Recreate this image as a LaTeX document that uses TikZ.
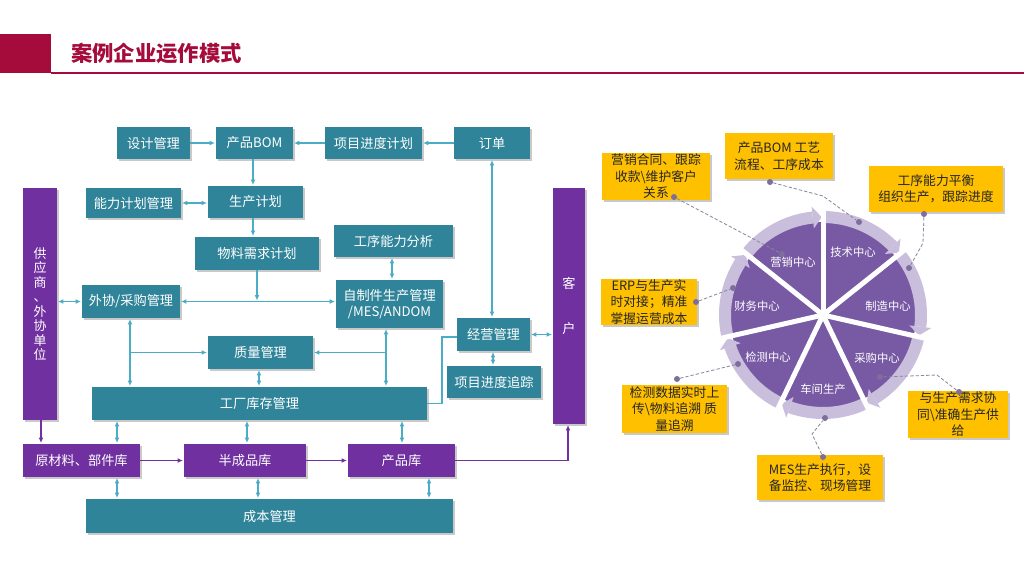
\documentclass[tikz,border=0pt]{standalone}
\usepackage{fontspec}
\setmainfont{Noto Sans CJK SC}
\usetikzlibrary{arrows.meta,shadows,calc}
\definecolor{teal1}{HTML}{2F8499}
\definecolor{lb}{HTML}{4BACC6}
\definecolor{pur}{HTML}{7030A0}
\definecolor{wedge}{HTML}{7859A3}
\definecolor{band}{HTML}{C9BEDC}
\definecolor{gold}{HTML}{FFC000}
\definecolor{ttl}{HTML}{A50B3B}
\definecolor{dotc}{HTML}{7D6E9E}
\definecolor{dsh}{HTML}{86869C}
\begin{document}
\begin{tikzpicture}[x=0.75pt,y=-0.75pt,
  myt/.tip={Latex[length=4pt,width=3.6pt]},
  sz/.style 2 args={minimum width=#1*0.75pt,minimum height=#2*0.75pt},
  shd/.style={drop shadow={shadow xshift=1.2pt,shadow yshift=-1.2pt,opacity=0.35,fill=black!60}},
  tb/.style={fill=teal1,text=white,inner sep=0pt,outer sep=0pt,align=center,font=\fontsize{9.9}{12}\selectfont,shd},
  pb/.style={tb,fill=pur},
  cbx/.style={fill=gold,text=black!85,inner sep=0pt,outer sep=0pt,align=center,font=\fontsize{9.6}{12.4}\selectfont,shd},
  ln/.style={draw=lb,line width=1pt},
  ar/.style={ln,-myt,shorten >=0.8pt},
  ar2/.style={ln,myt-myt,shorten >=0.8pt,shorten <=0.8pt},
  pln/.style={draw=pur,line width=1pt},
  par/.style={pln,-myt,shorten >=0.8pt},
  dsl/.style={draw=dsh,line width=0.6pt,dash pattern=on 2.5pt off 1.5pt},
  dt/.style={circle,fill=dotc,inner sep=0pt,minimum size=4.5pt},
  cl/.style={text=white,inner sep=0pt,font=\fontsize{8.5}{10}\selectfont}
]
\useasboundingbox (0,0) rectangle (1024,576);
\fill[white] (0,0) rectangle (1024,576);
% title
\fill[ttl] (0,34) rectangle (51,73);
\fill[ttl] (51,71.8) rectangle (1024,73.8);
\node[anchor=west,inner sep=0pt,text=ttl,font=\fontsize{16}{18}\selectfont\bfseries] (title) at (71,53) {案例企业运作模式};
% x / y helper coordinates
\foreach \v in {41,117,130,247,253,257,258,259,386,392,402,429,442,492,493,568}{\coordinate (X\v) at (\v,0);}
\coordinate (Y337) at (0,337);
% left diagram nodes
\node[tb,sz={73}{32}] (sj) at (153.5,143) {设计管理};
\node[tb,sz={77}{32}] (bom) at (254.5,143) {产品BOM};
\node[tb,sz={97}{32}] (xmjh) at (373.5,143) {项目进度计划};
\node[tb,sz={76}{32}] (dd) at (492,143) {订单};
\node[tb,sz={95}{30}] (nl) at (133.5,203) {能力计划管理};
\node[tb,sz={95}{32}] (scjh) at (255.5,202) {生产计划};
\node[tb,sz={124}{33}] (wl) at (257,253.5) {物料需求计划};
\node[tb,sz={119}{32}] (gx) at (393.5,241) {工序能力分析};
\node[tb,sz={98}{33}] (wx) at (131,301.5) {外协/采购管理};
\node[tb,sz={107}{48},font=\fontsize{9.9}{12.2}\selectfont] (zz) at (389.5,304) {自制件生产管理\\/MES/ANDOM};
\node[tb,sz={73}{33}] (jy) at (493.5,334.5) {经营管理};
\node[tb,sz={105}{33}] (zl) at (260.5,352.5) {质量管理};
\node[tb,sz={94}{32}] (zz2) at (494,382) {项目进度追踪};
\node[tb,sz={335}{33}] (kc) at (259.5,403.5) {工厂库存管理};
\node[tb,sz={367}{34}] (cb) at (269.5,516) {成本管理};
\node[pb,sz={34}{232},font=\fontsize{9.7}{10.9}\selectfont] (gys) at (40,304) {供\\应\\商\\、\\外\\协\\单\\位};
\node[pb,sz={32}{236},font=\fontsize{9.9}{33.8}\selectfont] (kh) at (569,306) {客\\户};
\node[pb,sz={117}{33}] (ycl) at (81.5,460.5) {原材料、部件库};
\node[pb,sz={122}{33}] (bcp) at (245,460.5) {半成品库};
\node[pb,sz={107}{33}] (cpk) at (401.5,460.5) {产品库};
% left connectors
\draw[ar] (sj.east) -- (bom.west);
\draw[ar] (xmjh.west) -- (bom.east);
\draw[ar] (dd.west) -- (xmjh.east);
\draw[ar] (bom.south -| X253) -- (scjh.north -| X253);
\draw[ar2] (nl.east) -- (nl.east -| scjh.west);
\draw[ar] (scjh.south -| X253) -- (wl.north -| X253);
\draw[ar2] (wx.east) -- (wx.east -| zz.west);
\draw[ar] (wl.south -| X257) -- (X257 |- wx.east);
\draw[ar2] (gys.east |- wx.west) -- (wx.west);
\draw[ar2] (gx.south -| X392) -- (zz.north -| X392);
\draw[ar2] (dd.south -| X492) -- (jy.north -| X492);
\draw[ar2] (jy.east) -- (jy.east -| kh.west);
\draw[ar2] (jy.south -| X493) -- (zz2.north -| X493);
\draw[ln] (kc.east) -- (kc.east -| X442) -- (X442 |- Y337) -- (jy.west |- Y337);
\draw[ar2] (zz.south -| X386) -- (kc.north -| X386);
\draw[ar] (X386 |- zl.east) -- (zl.east);
\draw[ar2] (wx.south -| X130) -- (kc.north -| X130);
\draw[ar] (X130 |- zl.west) -- (zl.west);
\draw[ar2] (zl.south -| X259) -- (kc.north -| X259);
\draw[ar2] (kc.south -| X117) -- (ycl.north -| X117);
\draw[ar2] (kc.south -| X247) -- (bcp.north -| X247);
\draw[ar2] (kc.south -| X402) -- (cpk.north -| X402);
\draw[ar2] (ycl.south -| X117) -- (cb.north -| X117);
\draw[ar2] (bcp.south -| X258) -- (cb.north -| X258);
\draw[ar2] (cpk.south -| X429) -- (cb.north -| X429);
\draw[par] (gys.south -| X41) -- (ycl.north -| X41);
\draw[par] (ycl.east) -- (bcp.west);
\draw[par] (bcp.east) -- (cpk.west);
\draw[par] (cpk.east) -- (cpk.east -| X568) -- (kh.south -| X568);
% circle
\begin{scope}[y=0.75pt,shift={(823,-315)}]
  \fill[wedge] (0,0) circle (93);
  \foreach \k in {0,...,6}{
    \pgfmathsetmacro\aa{90-\k*360/7}
    \pgfmathsetmacro\bb{\aa-360/7}
    \pgfmathsetmacro\cc{\bb+6}
    \fill[band] (\aa:92) arc[start angle=\aa,end angle=\cc,radius=92] -- (\cc:104) arc[start angle=\cc,end angle=\aa,radius=104] -- cycle;
    \fill[band] (\cc:87) -- (\cc:109) -- ({\bb+0.8}:98) -- cycle;
  }
  \foreach \k in {0,...,6}{
    \draw[white,line width=3.75pt] (0,0) -- ({90-\k*360/7}:114);
  }
\end{scope}
\node[cl] (s1) at (793,262) {营销中心};
\node[cl] (s2) at (853,252) {技术中心};
\node[cl] (s3) at (888,306) {制造中心};
\node[cl] (s4) at (877,358) {采购中心};
\node[cl] (s5) at (823,389) {车间生产};
\node[cl] (s6) at (768,357) {检测中心};
\node[cl] (s7) at (757,306) {财务中心};
% callouts
\node[cbx,sz={108}{47}] (c1) at (656,176.5) {营销合同、跟踪\\收款\textbackslash 维护客户\\关系};
\node[cbx,sz={108}{46}] (c2) at (779,156) {产品BOM 工艺\\流程、工序成本};
\node[cbx,sz={134}{46}] (c3) at (936,189) {工序能力平衡\\组织生产，跟踪进度};
\node[cbx,sz={96}{46}] (c4) at (649,302) {ERP与生产实\\时对接；精准\\掌握运营成本};
\node[cbx,sz={105}{48}] (c5) at (674.5,409) {检测数据实时上\\传\textbackslash 物料追溯 质\\量追溯};
\node[cbx,sz={126}{45}] (c6) at (820,477.5) {MES生产执行，设\\备监控、现场管理};
\node[cbx,sz={100}{47}] (c7) at (958,414.5) {与生产需求协\\同\textbackslash 准确生产供\\给};
% dots and dashed links
\node[dt] (d1a) at (674,197) {}; \node[dt] (d1b) at (782,254) {};
\node[dt] (d2a) at (770,182) {}; \node[dt] (d2b) at (859,222) {};
\node[dt] (d3a) at (924,214) {}; \node[dt] (d3b) at (909,268) {};
\node[dt] (d4a) at (696,302) {}; \node[dt] (d4b) at (733,288) {};
\node[dt] (d5a) at (677,379) {}; \node[dt] (d5b) at (738,364) {};
\node[dt] (d6a) at (823,457) {}; \node[dt] (d6b) at (825,418) {};
\node[dt] (d7a) at (959,392) {}; \node[dt] (d7b) at (880,377) {};
\coordinate (m2) at (823,196);
\coordinate (m3) at (923,243);
\coordinate (m6) at (812,434);
\coordinate (m7) at (937,375);
\draw[dsl] (d1a) -- (d1b);
\draw[dsl] (d2a) -- (m2) -- (d2b);
\draw[dsl] (d3a) -- (m3) -- (d3b);
\draw[dsl] (d4a) -- (d4b);
\draw[dsl] (d5a) -- (d5b);
\draw[dsl] (d6a) -- (m6) -- (d6b);
\draw[dsl] (d7a) -- (m7) -- (d7b);
\end{tikzpicture}
\end{document}
